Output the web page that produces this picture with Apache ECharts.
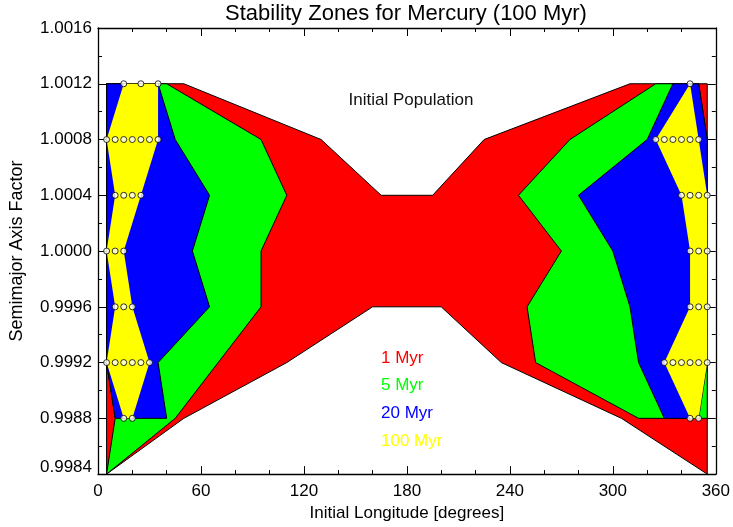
<!DOCTYPE html>
<html>
<head>
<meta charset="utf-8">
<title>Stability Zones for Mercury</title>
<script src="https://cdn.jsdelivr.net/npm/echarts@6/dist/echarts.min.js"></script>
<style>
  html, body { margin: 0; padding: 0; background: #fff; }
  #chart { width: 733px; height: 527px; }
</style>
</head>
<body>
<div id="chart"></div>
<script>
/* zone outlines: [initial longitude (deg), semimajor axis factor] */
var zone1Myr = [[5, 1.0012], [50, 1.0012], [130, 1.0008], [165, 1.0004], [195, 1.0004], [225, 1.0008],
  [310, 1.0012], [355, 1.0012], [355, 0.9984], [305, 0.9988], [235, 0.9992], [200, 0.9996],
  [160, 0.9996], [110, 0.9992], [50, 0.9988], [5, 0.9984]];
var zone5MyrWest = [[5, 1.0012], [40, 1.0012], [95, 1.0008], [110, 1.0004], [95, 1.0000], [95, 0.9996],
  [45, 0.9988], [5, 0.9984], [10, 0.9988], [5, 0.9992]];
var zone5MyrEast = [[325, 1.0012], [350, 1.0012], [355, 1.0008], [355, 0.9988], [315, 0.9988],
  [255, 0.9992], [250, 0.9996], [270, 1.0000], [245, 1.0004], [275, 1.0008]];
var zone20MyrWest = [[5, 1.0012], [35, 1.0012], [45, 1.0008], [65, 1.0004], [55, 1.0000], [65, 0.9996],
  [35, 0.9992], [40, 0.9988], [10, 0.9988], [5, 0.9992]];
var zone20MyrEast = [[335, 1.0012], [350, 1.0012], [355, 1.0008], [355, 0.9992], [350, 0.9988],
  [330, 0.9988], [315, 0.9992], [310, 0.9996], [300, 1.0000], [280, 1.0004], [320, 1.0008]];
var zone100MyrWest = [[15, 1.0012], [35, 1.0012], [35, 1.0008], [25, 1.0004], [15, 1.0000], [20, 0.9996],
  [30, 0.9992], [20, 0.9988], [15, 0.9988], [5, 0.9992], [10, 0.9996], [5, 1.0000], [10, 1.0004], [5, 1.0008]];
var zone100MyrEast = [[345, 1.0012], [350, 1.0008], [355, 1.0004], [355, 1.0000], [355, 0.9996],
  [355, 0.9992], [350, 0.9988], [345, 0.9988], [330, 0.9992], [345, 0.9996], [345, 1.0000],
  [340, 1.0004], [325, 1.0008]];

/* surviving particles (100 Myr), by row */
var dotRows = [1.0012, 1.0008, 1.0004, 1.0000, 0.9996, 0.9992, 0.9988];
var dotsWest = [[15, 25, 35], [5, 10, 15, 20, 25, 30, 35], [10, 15, 20, 25], [5, 10, 15],
  [10, 15, 20], [5, 10, 15, 20, 25, 30], [15, 20]];
var dotsEast = [[345], [325, 330, 335, 340, 345, 350], [340, 345, 350, 355], [345, 350, 355],
  [345, 350, 355], [330, 335, 340, 345, 350, 355], [345, 350]];

var legendNames = ['1 Myr', '5 Myr', '20 Myr', '100 Myr'];
var legendColors = ['#ff0000', '#00ff00', '#0000ff', '#ffff00'];

var xMin = 0, xMax = 360, xStep = 60;
var yMin = 0.9984, yMax = 1.0016, yStep = 0.0004;

var FONT = 'Liberation Sans, Arial, Helvetica, sans-serif';

var dots = [];
for (var i = 0; i < dotRows.length; i++) {
  dotsWest[i].concat(dotsEast[i]).forEach(function (x) { dots.push([x, dotRows[i]]); });
}

function zone(points, fill, stroke) {
  return {
    type: 'custom',
    coordinateSystem: 'cartesian2d',
    silent: true,
    data: [points[0]],
    renderItem: function (params, api) {
      return {
        type: 'polygon',
        shape: { points: points.map(function (p) { return api.coord(p); }) },
        style: { fill: fill, stroke: stroke, lineWidth: 1 }
      };
    }
  };
}

function xAxisCfg(pos, withLabels) {
  return {
    type: 'value', position: pos, min: xMin, max: xMax, interval: xStep,
    name: withLabels ? 'Initial Longitude [degrees]' : '',
    nameLocation: 'middle', nameGap: 28,
    nameTextStyle: { fontFamily: FONT, fontSize: 17, color: '#000' },
    axisLine: { show: true, onZero: false, lineStyle: { color: '#000', width: 1.3 } },
    axisTick: { show: true, inside: true, length: 8, lineStyle: { color: '#000' } },
    minorTick: { show: true, splitNumber: 3, length: 4, lineStyle: { color: '#000' } },
    axisLabel: { show: withLabels, margin: 9, fontFamily: FONT, fontSize: 17, color: '#000' },
    splitLine: { show: false }
  };
}

function yAxisCfg(pos, withLabels) {
  return {
    type: 'value', position: pos, min: yMin, max: yMax, interval: yStep,
    name: withLabels ? 'Semimajor Axis Factor' : '',
    nameLocation: 'middle', nameGap: 72,
    nameTextStyle: { fontFamily: FONT, fontSize: 18, color: '#000' },
    axisLine: { show: true, onZero: false, lineStyle: { color: '#000', width: 1.3 } },
    axisTick: { show: true, inside: true, length: 8, lineStyle: { color: '#000' } },
    minorTick: { show: true, splitNumber: 2, length: 4, lineStyle: { color: '#000' } },
    axisLabel: {
      show: withLabels, margin: 6, fontFamily: FONT, fontSize: 17, color: '#000',
      formatter: function (v) {
        var s = v.toFixed(4);
        return Math.abs(v - yMin) < 1e-9 ? '{lo|' + s + '}' : s;
      },
      rich: { lo: { fontFamily: FONT, fontSize: 17, color: '#000', padding: [0, 0, 14, 0] } }
    },
    splitLine: { show: false }
  };
}

var chart = echarts.init(document.getElementById('chart'), null, { renderer: 'canvas' });

var graphics = [
  { type: 'text', x: 406, y: 14, style: { text: 'Stability Zones for Mercury (100 Myr)', fontFamily: FONT, fontSize: 22, fill: '#000', align: 'center', verticalAlign: 'middle' } },
  { type: 'text', x: 411, y: 100, style: { text: 'Initial Population', fontFamily: FONT, fontSize: 17, fill: '#111', align: 'center', verticalAlign: 'middle' } }
];
legendNames.forEach(function (name, k) {
  graphics.push({ type: 'text', x: 381, y: 358 + k * 27.8, z: 10,
    style: { text: name, fontFamily: FONT, fontSize: 17, fill: legendColors[k], align: 'left', verticalAlign: 'middle' } });
});

chart.setOption({
  animation: false,
  backgroundColor: '#fff',
  grid: { left: 95, right: 15, top: 28, bottom: 52 },
  xAxis: [xAxisCfg('bottom', true), xAxisCfg('top', false)],
  yAxis: [yAxisCfg('left', true), yAxisCfg('right', false)],
  graphic: graphics,
  series: [
    zone(zone1Myr, legendColors[0], '#000'),
    zone(zone5MyrWest, legendColors[1], '#000'),
    zone(zone5MyrEast, legendColors[1], '#000'),
    zone(zone20MyrWest, legendColors[2], '#000'),
    zone(zone20MyrEast, legendColors[2], '#000'),
    zone(zone100MyrWest, legendColors[3], null),
    zone(zone100MyrEast, legendColors[3], null),
    {
      type: 'scatter',
      data: dots,
      symbol: 'circle',
      symbolSize: 6,
      silent: true,
      z: 5,
      itemStyle: { color: '#fff', borderColor: '#000', borderWidth: 1 }
    }
  ]
});
</script>
</body>
</html>
